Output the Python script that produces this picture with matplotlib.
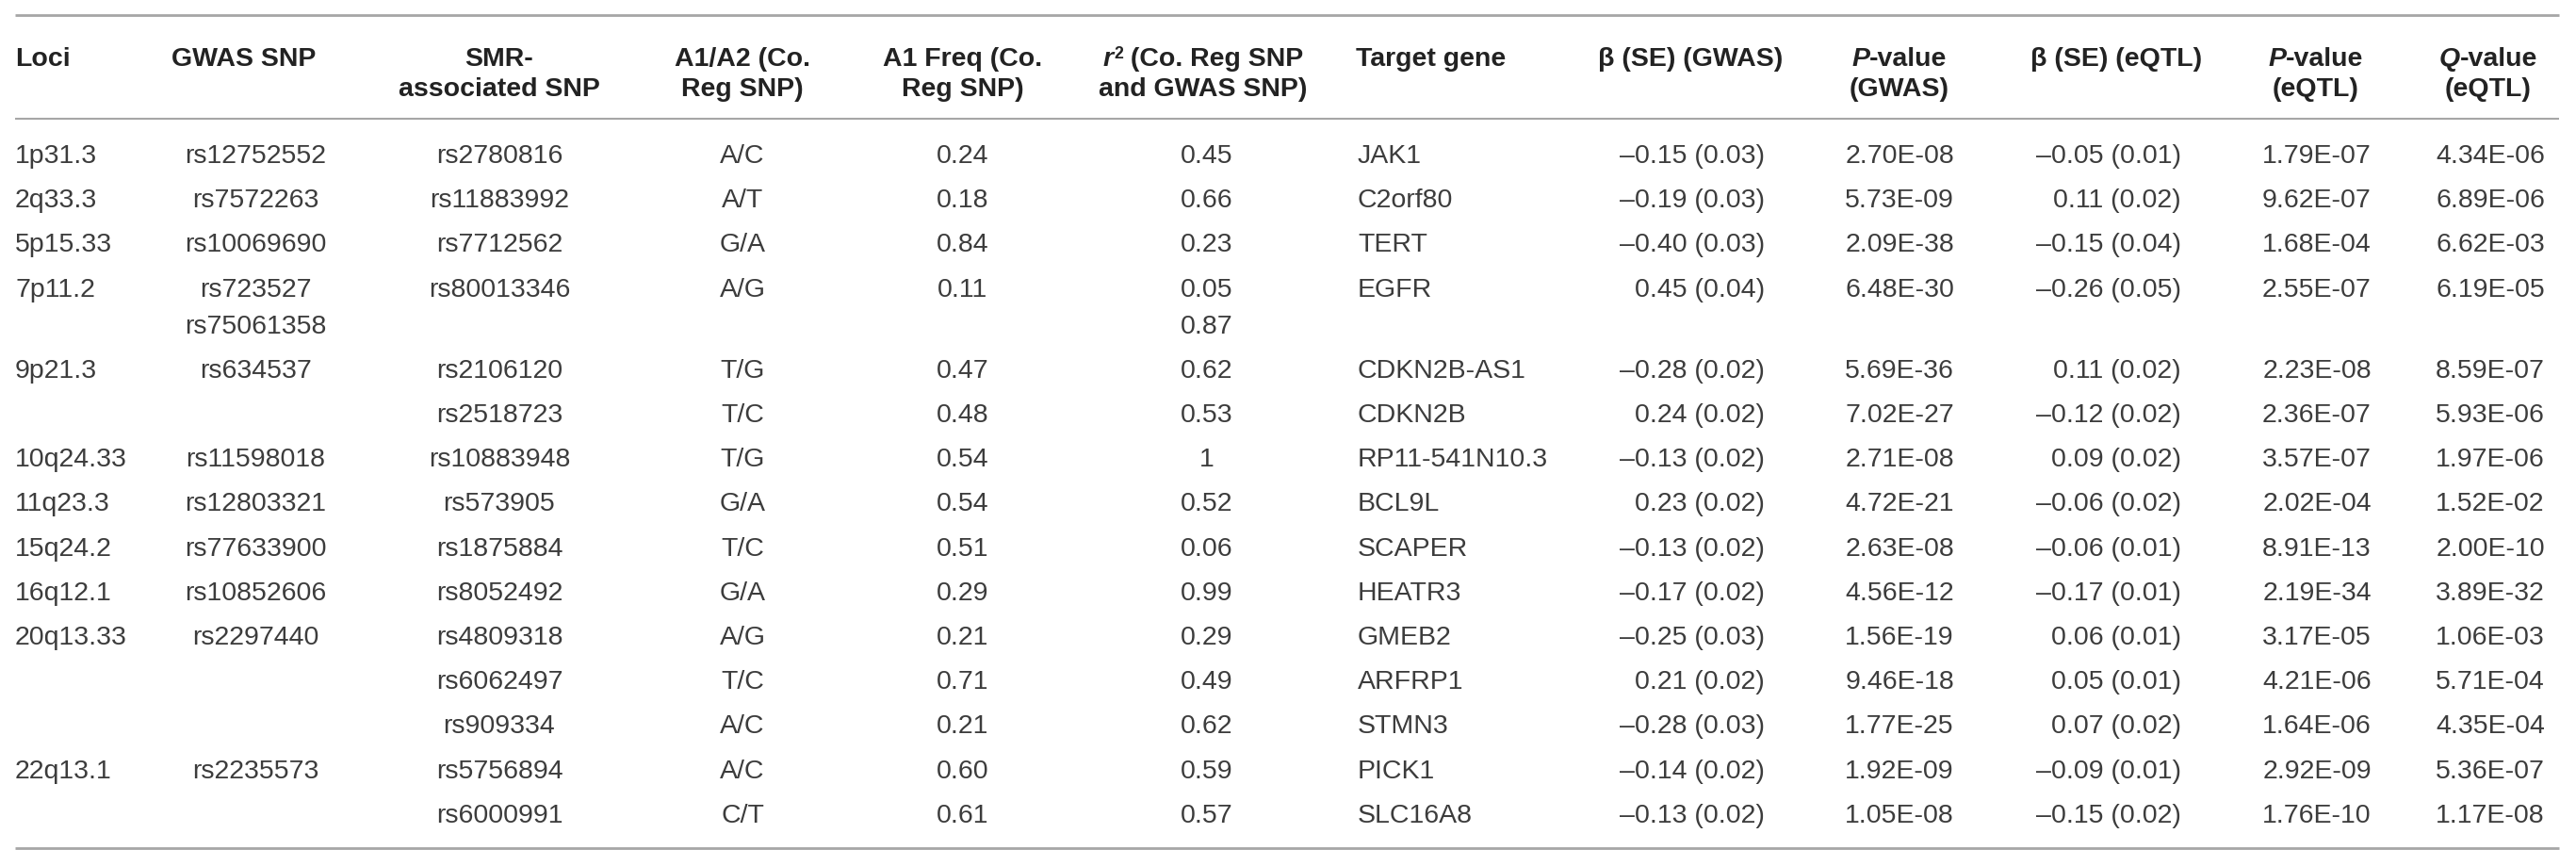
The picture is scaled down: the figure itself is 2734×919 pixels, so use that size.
import re
import matplotlib
matplotlib.use("Agg")
import matplotlib.pyplot as plt

# table content, one list per column
loci = ["1p31.3", "2q33.3", "5p15.33", "7p11.2", "9p21.3", "", "10q24.33", "11q23.3",
        "15q24.2", "16q12.1", "20q13.33", "", "", "22q13.1", ""]
gwas_snp = ["rs12752552", "rs7572263", "rs10069690", "rs723527\nrs75061358", "rs634537", "",
            "rs11598018", "rs12803321", "rs77633900", "rs10852606", "rs2297440", "", "",
            "rs2235573", ""]
smr_snp = ["rs2780816", "rs11883992", "rs7712562", "rs80013346", "rs2106120", "rs2518723",
           "rs10883948", "rs573905", "rs1875884", "rs8052492", "rs4809318", "rs6062497",
           "rs909334", "rs5756894", "rs6000991"]
alleles = ["A/C", "A/T", "G/A", "A/G", "T/G", "T/C", "T/G", "G/A", "T/C", "G/A", "A/G", "T/C",
           "A/C", "A/C", "C/T"]
a1_freq = ["0.24", "0.18", "0.84", "0.11", "0.47", "0.48", "0.54", "0.54", "0.51", "0.29",
           "0.21", "0.71", "0.21", "0.60", "0.61"]
r2 = ["0.45", "0.66", "0.23", "0.05\n0.87", "0.62", "0.53", "1", "0.52", "0.06", "0.99",
      "0.29", "0.49", "0.62", "0.59", "0.57"]
genes = ["JAK1", "C2orf80", "TERT", "EGFR", "CDKN2B-AS1", "CDKN2B", "RP11-541N10.3", "BCL9L",
         "SCAPER", "HEATR3", "GMEB2", "ARFRP1", "STMN3", "PICK1", "SLC16A8"]
beta_gwas = ["–0.15 (0.03)", "–0.19 (0.03)", "–0.40 (0.03)", "0.45 (0.04)", "–0.28 (0.02)",
             "0.24 (0.02)", "–0.13 (0.02)", "0.23 (0.02)", "–0.13 (0.02)", "–0.17 (0.02)",
             "–0.25 (0.03)", "0.21 (0.02)", "–0.28 (0.03)", "–0.14 (0.02)", "–0.13 (0.02)"]
p_gwas = ["2.70E-08", "5.73E-09", "2.09E-38", "6.48E-30", "5.69E-36", "7.02E-27", "2.71E-08",
          "4.72E-21", "2.63E-08", "4.56E-12", "1.56E-19", "9.46E-18", "1.77E-25", "1.92E-09",
          "1.05E-08"]
beta_eqtl = ["–0.05 (0.01)", "0.11 (0.02)", "–0.15 (0.04)", "–0.26 (0.05)", "0.11 (0.02)",
             "–0.12 (0.02)", "0.09 (0.02)", "–0.06 (0.02)", "–0.06 (0.01)", "–0.17 (0.01)",
             "0.06 (0.01)", "0.05 (0.01)", "0.07 (0.02)", "–0.09 (0.01)", "–0.15 (0.02)"]
p_eqtl = ["1.79E-07", "9.62E-07", "1.68E-04", "2.55E-07", "2.23E-08", "2.36E-07", "3.57E-07",
          "2.02E-04", "8.91E-13", "2.19E-34", "3.17E-05", "4.21E-06", "1.64E-06", "2.92E-09",
          "1.76E-10"]
q_eqtl = ["4.34E-06", "6.89E-06", "6.62E-03", "6.19E-05", "8.59E-07", "5.93E-06", "1.97E-06",
          "1.52E-02", "2.00E-10", "3.89E-32", "1.06E-03", "5.71E-04", "4.35E-04", "5.36E-07",
          "1.17E-08"]

# header labels: *x* = italic, ^x^ = superscript
headers = ["Loci", "GWAS SNP", "SMR-\nassociated SNP", "A1/A2 (Co.\nReg SNP)",
           "A1 Freq (Co.\nReg SNP)", "*r*^2^ (Co. Reg SNP\nand GWAS SNP)", "Target gene",
           "β (SE) (GWAS)", "*P*-value\n(GWAS)", "β (SE) (eQTL)", "*P*-value\n(eQTL)",
           "*Q*-value\n(eQTL)"]

columns = [loci, gwas_snp, smr_snp, alleles, a1_freq, r2, genes, beta_gwas, p_gwas,
           beta_eqtl, p_eqtl, q_eqtl]

# layout (pixels)
W, H = 2734, 919
head_x = [16, 259, 530, 788, 1022, 1277, 1439, 1794, 2016, 2246, 2458, 2641]
head_ha = ["left", "center", "center", "center", "center", "center", "left", "center",
           "center", "center", "center", "center"]
cell_x = [16, 271, 530, 788, 1022, 1281, 1441, 1873, 2016, 2315, 2459, 2643]
cell_ha = ["left", "center", "center", "center", "center", "center", "left", "right",
           "center", "right", "center", "center"]

FONT = "Liberation Sans"
FS = 20.5
TXT = "#3c3c3c"
HEAD = "#222222"
RULE = "#a6a6a6"

fig = plt.figure(figsize=(W / 100, H / 100), dpi=100)
ax = fig.add_axes([0, 0, 1, 1])
ax.set_xlim(0, W)
ax.set_ylim(H, 0)
ax.axis("off")
renderer = fig.canvas.get_renderer()


def parse(line):
    # split a header line into (text, italic, superscript) pieces
    pieces = []
    for tok in re.split(r"(\*[^*]+\*|\^[^^]+\^)", line):
        if not tok:
            continue
        if tok.startswith("*"):
            pieces.append((tok[1:-1], True, False))
        elif tok.startswith("^"):
            pieces.append((tok[1:-1], False, True))
        else:
            pieces.append((tok, False, False))
    return pieces


def rich_text(x, y, line, ha):
    pieces = parse(line)
    arts = []
    for txt, ital, sup in pieces:
        t = ax.text(0, y - (8 if sup else 0), txt, fontsize=FS * (0.62 if sup else 1),
                    family=FONT, weight="bold", style="italic" if ital else "normal",
                    color=HEAD, ha="left", va="baseline")
        arts.append(t)
    widths = [a.get_window_extent(renderer).width for a in arts]
    total = sum(widths)
    start = x if ha == "left" else (x - total / 2 if ha == "center" else x - total)
    for a, w in zip(arts, widths):
        a.set_x(start)
        start += w


# rules
ax.hlines(16, 16, 2716, color=RULE, lw=2.0)
ax.hlines(126, 16, 2716, color=RULE, lw=1.5)
ax.hlines(900, 16, 2716, color=RULE, lw=2.0)

# header
head_base = [70, 102]
for lab, x, ha in zip(headers, head_x, head_ha):
    for k, line in enumerate(lab.split("\n")):
        rich_text(x, head_base[k], line, ha)

# body
row_gap, sub_gap = 47.2, 39
n_lines = [max(len(c[i].split("\n")) for c in columns) for i in range(len(genes))]
y = 173
for i in range(len(genes)):
    for col, x, ha in zip(columns, cell_x, cell_ha):
        for k, part in enumerate(col[i].split("\n")):
            if part:
                ax.text(x, y + k * sub_gap, part, fontsize=FS, family=FONT, color=TXT,
                        ha=ha, va="baseline")
    y += row_gap + (n_lines[i] - 1) * sub_gap

fig.savefig("out.png", dpi=100)
